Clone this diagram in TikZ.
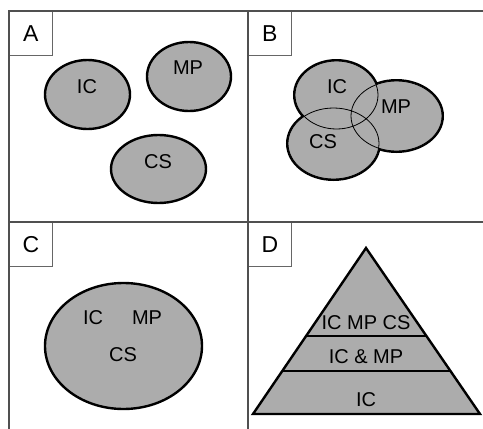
\documentclass[tikz,border=0pt]{standalone}
\usepackage{fontspec}
\setmainfont{Liberation Sans}
\usetikzlibrary{shapes.geometric,calc}
\definecolor{setgray}{RGB}{172,172,172}
\definecolor{framegray}{RGB}{80,80,80}
\def\setline{2.4pt}

\begin{document}
\begin{tikzpicture}[x=1pt,y=-1pt,font=\fontsize{20}{23}\selectfont]
    \tikzstyle{frame}=[draw=framegray,line width=2pt]
    \tikzstyle{tag}=[draw=black!60,line width=0.8pt,fill=white,anchor=north west,
        minimum width=43pt,minimum height=44pt,inner sep=0pt,font=\fontsize{23}{26}\selectfont]
    \tikzstyle{set}=[ellipse,fill=setgray,draw=black,line width=\setline,inner sep=0pt]
    \tikzstyle{word}=[inner sep=0pt]

    \useasboundingbox (0,0) rectangle (483,429);

    \foreach \name / \x / \y in {A/9/11, B/248/11, C/9/222, D/248/222}
        \node[tag] (tag-\name) at (\x,\y) {\name};

    \draw[frame] (483,11) -| (9,429);
    \draw[frame] (248,11) -- (248,429);
    \draw[frame] (9,222) -- (483,222);

    % A: three separate sets
    \foreach \name / \x / \y / \w / \h in {IC/87.5/94.5/85/69, MP/189/76.5/84/69, CS/158.5/169/95/68}
        \node[set,minimum width=\w pt,minimum height=\h pt] (a-\name) at (\x,\y) {};
    \foreach \name / \x / \y in {IC/87/87, MP/188/68, CS/158/162}
        \node[word] (a-\name-txt) at (\x,\y) {\name};

    % B: overlapping sets, inner arcs thin
    \foreach \name / \x / \y / \w / \h in {IC/336.5/95/83/68, MP/396.5/116/91/70, CS/333.5/143.5/91/71}
        \node[set,line width=4pt,minimum width=\w pt,minimum height=\h pt] (b-\name) at (\x,\y) {};
    \foreach \name / \w / \h in {IC/83/68, MP/91/70, CS/91/71}
        \fill[setgray] (b-\name.center) ellipse [x radius={\w*0.5pt}, y radius={\h*0.5pt}];
    \foreach \name / \w / \h in {IC/83/68, MP/91/70, CS/91/71}
        \draw[line width=0.8pt] (b-\name.center) ellipse [x radius={\w*0.5pt}, y radius={\h*0.5pt}];
    \foreach \name / \x / \y in {IC/337/87, MP/396/107, CS/323/142}
        \node[word] (b-\name-txt) at (\x,\y) {\name};

    % C: one set
    \node[set,minimum width=157pt,minimum height=126pt] (c-set) at (123.5,346) {};
    \foreach \name / \x / \y in {IC/93/318, MP/147/318, CS/123/355}
        \node[word] (c-\name-txt) at (\x,\y) {\name};

    % D: pyramid
    \coordinate (apex) at (366,248);
    \coordinate (bl) at (253,414);
    \coordinate (br) at (480,414);
    \draw[fill=setgray,line width=\setline,line join=miter] (apex) -- (br) -- (bl) -- cycle;
    \foreach \t in {0.53,0.741}
        \draw[line width=\setline] ($(apex)!\t!(bl)$) -- ($(apex)!\t!(br)$);
    \node[word] (d-top) at (366,323) {IC MP CS};
    \node[word] (d-mid) at (366,357) {IC \& MP};
    \node[word] (d-low) at (366,400) {IC};
\end{tikzpicture}
\end{document}
